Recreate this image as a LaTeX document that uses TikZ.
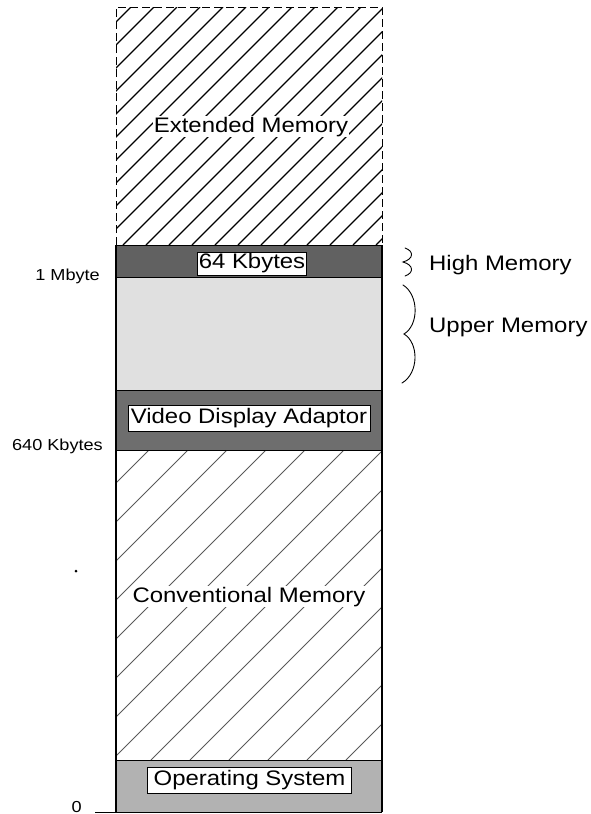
\documentclass[tikz,border=0pt]{standalone}
\usepackage{fontspec}
\setmainfont{Liberation Sans}
\newfontfamily\memfont[FakeStretch=1.14]{Liberation Sans}

\begin{document}
\begin{tikzpicture}[x=1pt, y=-1pt,
    bigtext/.style={font=\memfont\fontsize{21}{24}\selectfont},
    smalltext/.style={font=\memfont\fontsize{15.9}{18}\selectfont},
    wbox/.style={bigtext, fill=white, draw, line width=0.5pt, inner sep=1.5pt},
    bracel/.style={line width=0.9pt, line cap=round}]
  \useasboundingbox (0,0) rectangle (590,814);

  % memory bands, top to bottom
  \fill[black!62] (116,245) rectangle (382,277);
  \fill[black!12] (116,277) rectangle (382,390);
  \fill[black!57] (116,390) rectangle (382,450);
  \fill[black!30] (116,760) rectangle (382,812);

  % extended memory: thick hatching, dashed frame
  \begin{scope}
    \clip (116,7) rectangle (382,245);
    \foreach \a in {-130,-107,...,390}
      \draw[line width=1.1pt] (\a,245) -- ++(238,-238);
  \end{scope}
  \draw[dashed, dash pattern=on 8pt off 4pt, line width=1pt]
       (116,245) -- (116,7) -- (382,7) -- (382,245);

  % conventional memory: thin grey hatching
  \begin{scope}
    \clip (116,450) rectangle (382,760);
    \foreach \a in {-200,-161,...,390}
      \draw[black!65, line width=0.8pt] (\a,760) -- ++(310,-310);
  \end{scope}

  % solid walls and dividers
  \draw[line width=1.2pt] (116,245) -- (116,812);
  \draw[line width=1.2pt] (382,245) -- (382,812);
  \foreach \y in {245,277,390,450,760}
    \draw[line width=0.6pt] (116,\y) -- (382,\y);
  \draw[line width=1pt] (95,812) -- (382,812);

  % region labels
  \node[bigtext, fill=white, inner sep=1pt, anchor=base] (ext) at (251,132) {Extended Memory};
  \node[wbox] (kb) at (252,263.5) {64 Kbytes};
  \node[wbox, inner xsep=3pt, inner ysep=3pt] (vda) at (249,418.5) {Video Display Adaptor};
  \node[bigtext, fill=white, inner sep=1pt, anchor=base] (conv) at (249,602) {Conventional Memory};
  \node[wbox, inner xsep=6pt, inner ysep=3pt] (os) at (249.5,780) {Operating System};

  % address marks on the left
  \node[smalltext, anchor=base east, inner sep=0pt] (mb) at (100,280) {1 Mbyte};
  \node[smalltext, anchor=base east, inner sep=0pt] (k640) at (103,450) {640 Kbytes};
  \node[smalltext, anchor=base east, inner sep=0pt] (zero) at (82,812) {0};
  \fill (76,571) circle (1.5pt);

  % braces and names on the right
  \coordinate (hitop) at (405,248);
  \coordinate (himid) at (403,262);
  \coordinate (hibot) at (405,276);
  \coordinate (uptop) at (403,285);
  \coordinate (upmid) at (404,334);
  \coordinate (upbot) at (402,383);
  \draw[bracel] (hitop) .. controls (414,251) and (414,259) .. (himid)
                        .. controls (414,265) and (414,273) .. (hibot);
  \draw[bracel] (uptop) .. controls (419,295) and (419,325) .. (upmid)
                        .. controls (419,343) and (419,373) .. (upbot);
  \node[bigtext, anchor=base west, inner sep=0pt] (high) at (429,270) {High Memory};
  \node[bigtext, anchor=base west, inner sep=0pt] (upper) at (429,332) {Upper Memory};
\end{tikzpicture}
\end{document}
